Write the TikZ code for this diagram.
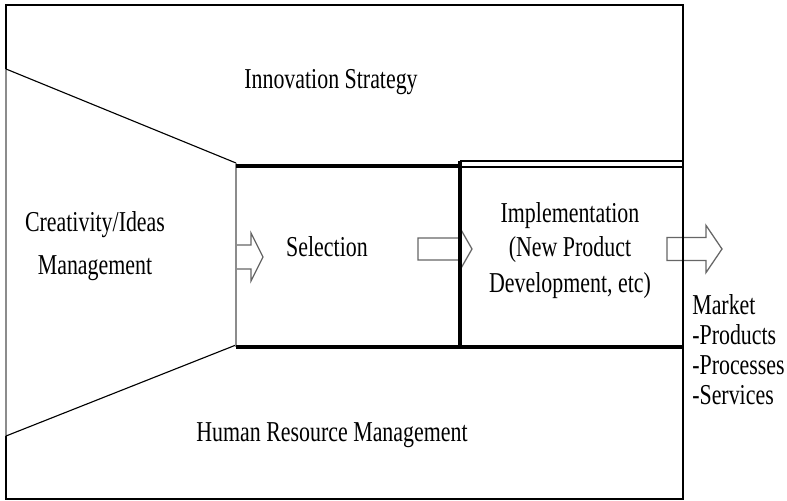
\documentclass[tikz,border=0pt]{standalone}
\usepackage{fontspec}
\setmainfont[FakeStretch=0.76]{Liberation Serif}
\usepackage{tikz}

% open block arrow: tail x, head base x, tip x, centre y, half body, half head
\newcommand{\blockarrow}[6]{%
  \draw[arrowline] (#1,#4-#5) -- (#2,#4-#5) -- (#2,#4-#6) -- (#3,#4)
    -- (#2,#4+#6) -- (#2,#4+#5) -- (#1,#4+#5) -- cycle;}

\tikzset{
  lbl/.style={inner sep=0pt, font=\fontsize{20.5}{24}\selectfont},
  thinline/.style={line width=0.8pt},
  heavyline/.style={line width=2.4pt},
  greyline/.style={line width=1pt, black!45},
  arrowline/.style={line width=0.9pt, black!60, fill=white},
}

\begin{document}
\begin{tikzpicture}
        \useasboundingbox (0,0) rectangle (19.675,12.525);

        % arrows first, the frame runs over them
        \blockarrow{5.9}{6.275}{6.575}{6.1}{0.3}{0.6}
        \blockarrow{10.45}{11.5}{11.8}{6.3}{0.275}{0.525}
        \blockarrow{16.675}{17.65}{18.05}{6.3}{0.29}{0.59}

        % frame
        \draw[thinline] (0.15,10.8) -- (0.15,12.4) -- (17.075,12.4) -- (17.075,0.05)
            -- (0.15,0.05) -- (0.15,1.625);
        \draw[greyline] (0.15,1.625) -- (0.15,10.8);

        % funnel
        \draw[thinline] (0.15,10.8) -- (5.9,8.45);
        \draw[thinline] (0.15,1.625) -- (5.9,3.9);
        \draw[greyline] (5.9,8.45) -- (5.9,3.85);

        % selection and implementation
        \draw[heavyline] (5.9,8.375) -- (11.5,8.375);
        \draw[thinline] (11.5,8.35) -- (17.075,8.35);
        \draw[thinline] (11.5,8.5) -- (17.075,8.5);
        \draw[heavyline] (11.5,8.5) -- (11.5,3.85);
        \draw[heavyline] (5.9,3.85) -- (17.075,3.85);

        \node[lbl, anchor=base] (innov) at (8.275,10.3) {Innovation Strategy};
        \node[lbl, anchor=base] (crea) at (2.375,6.725) {Creativity/Ideas};
        \node[lbl, anchor=base] (creamgmt) at (2.375,5.65) {Management};
        \node[lbl, anchor=base] (select) at (8.175,6.1) {Selection};
        \node[lbl, anchor=base] (impl) at (14.25,6.95) {Implementation};
        \node[lbl, anchor=base] (implnpd) at (14.25,6.1) {(New Product};
        \node[lbl, anchor=base] (impldev) at (14.25,5.2) {Development, etc)};
        \node[lbl, anchor=base] (hrm) at (8.3,1.475) {Human Resource Management};

        \node[lbl, anchor=base west] (market) at (17.3,4.65) {Market};
        \node[lbl, anchor=base west] (prod) at (17.3,3.9) {-Products};
        \node[lbl, anchor=base west] (proc) at (17.3,3.15) {-Processes};
        \node[lbl, anchor=base west] (serv) at (17.3,2.4) {-Services};
    \end{tikzpicture}
\end{document}
